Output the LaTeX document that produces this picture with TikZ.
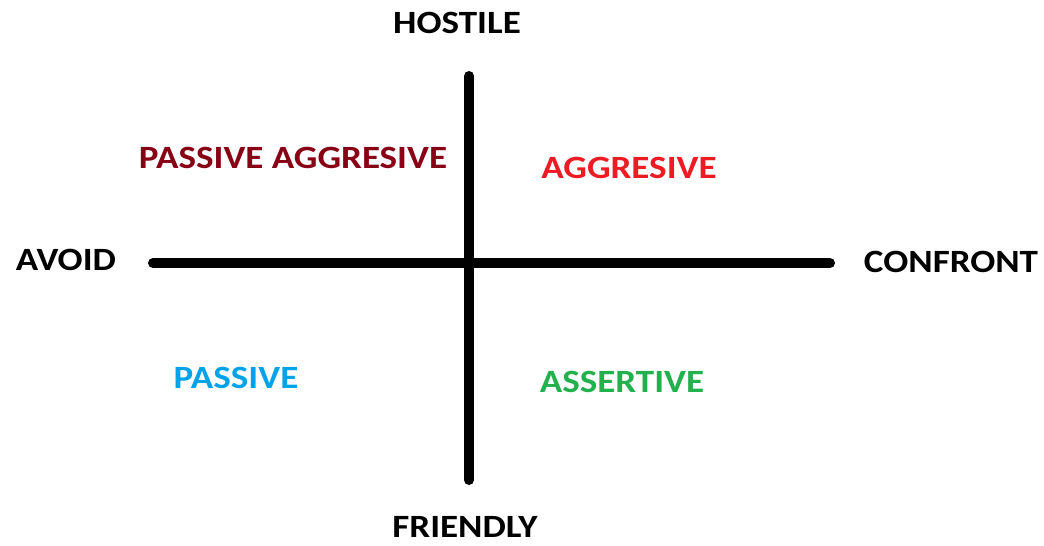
\documentclass[tikz,border=0pt]{standalone}
\usepackage{fontspec}
\setmainfont{Carlito}[FakeStretch=1.14]
\usepackage{xcolor}
\usepackage{tikz}
\usetikzlibrary{positioning}

\definecolor{darkred}{RGB}{136,0,21}
\definecolor{brightred}{RGB}{237,28,36}
\definecolor{skyblue}{RGB}{0,162,232}
\definecolor{leafgreen}{RGB}{34,177,76}

\tikzset{
    axis/.style={line width=10pt, line cap=round},
    label/.style={font=\fontsize{32.5}{36}\selectfont\bfseries, inner sep=0pt}
}

\begin{document}
\begin{tikzpicture}[x=1pt,y=-1pt]
                \useasboundingbox (0,0) rectangle (1044,546);

                % axis ends
                \coordinate (left) at (153,263);
                \coordinate (right) at (830,263);
                \coordinate (top) at (469,76);
                \coordinate (bottom) at (469,480);

                \draw[axis] (left) -- (right);
                \draw[axis] (top) -- (bottom);

                % axis labels
                \node[label] (hostile) at (457,23) {HOSTILE};
                \node[label] (friendly) at (465,527) {FRIENDLY};
                \node[label] (avoid) at (66,260) {AVOID};
                \node[label] (confront) at (951,262) {CONFRONT};

                % quadrants
                \node[label, text=darkred] (passagg) at (293,158) {PASSIVE AGGRESIVE};
                \node[label, text=brightred] (aggr) at (629,168) {AGGRESIVE};
                \node[label, text=skyblue] (passive) at (236,378) {PASSIVE};
                \node[label, text=leafgreen] (assert) at (622,382) {ASSERTIVE};

\end{tikzpicture}
\end{document}
